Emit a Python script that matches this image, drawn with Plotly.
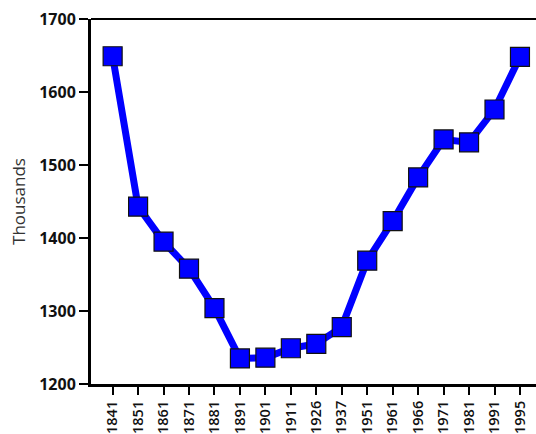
import plotly.graph_objects as go

years = ["1841", "1851", "1861", "1871", "1881", "1891", "1901", "1911", "1926",
         "1937", "1951", "1961", "1966", "1971", "1981", "1991", "1995"]
population = [1649, 1443, 1395, 1358, 1304, 1235, 1236, 1249, 1255,
              1278, 1369, 1423, 1483, 1535, 1531, 1576, 1648]
y_ticks = [1200, 1300, 1400, 1500, 1600, 1700]

fig = go.Figure()
fig.add_trace(go.Scatter(
    x=years, y=population, mode="lines+markers",
    line=dict(color="#0000ff", width=7),
    marker=dict(symbol="square", size=19, color="#0000ff",
                line=dict(color="#111111", width=1.2)),
    cliponaxis=False,
))

y_font = dict(family="Open Sans", size=16, color="#111111", weight="bold")
x_font = dict(family="Open Sans", size=14.5, color="#111111", weight=600)

fig.update_layout(
    width=536, height=434,
    margin=dict(l=91, r=0, t=19, b=50, autoexpand=False),
    paper_bgcolor="white", plot_bgcolor="white",
    showlegend=False,
    xaxis=dict(type="category", range=[-0.85, 16.63], automargin=False,
               showgrid=False, zeroline=False,
               showline=True, linecolor="black", linewidth=3,
               ticks="outside", ticklen=8, tickwidth=2, tickcolor="black",
               tickangle=-90, tickfont=x_font),
    yaxis=dict(range=[1200, 1700], tickvals=y_ticks, automargin=False,
               showgrid=False, zeroline=False,
               showline=True, linecolor="black", linewidth=3,
               ticks="outside", ticklen=9, tickwidth=2, tickcolor="black",
               tickfont=y_font,
               title=dict(text="Thousands", standoff=10,
                          font=dict(family="Open Sans", size=17, color="#333333"))),
    shapes=[dict(type="line", xref="paper", yref="paper", x0=0, x1=1, y0=1, y1=1,
                 line=dict(color="black", width=2))],
)

fig.write_html("out.html", config={"displayModeBar": False},
               post_script="document.body.style.margin='0';document.body.style.overflow='hidden';")
